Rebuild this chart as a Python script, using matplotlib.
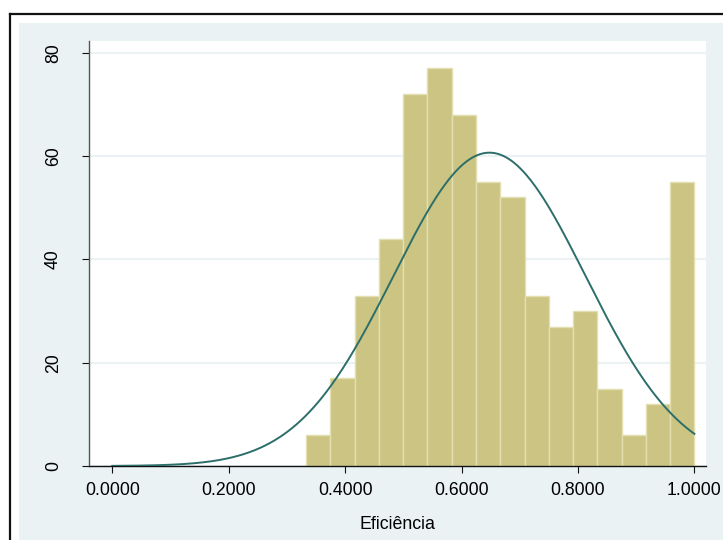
import numpy as np
import matplotlib.pyplot as plt
from matplotlib.patches import Rectangle
from matplotlib.lines import Line2D

# dados do histograma (16 classes)
bin_start = 0.333
bin_end = 1.0
counts = [6, 17, 33, 44, 72, 77, 68, 55, 52, 33, 27, 30, 15, 6, 12, 55]
# curva normal ajustada
mu = 0.648
sigma = 0.165
xticks = [0.0, 0.2, 0.4, 0.6, 0.8, 1.0]
yticks = [0, 20, 40, 60, 80]

plt.rcParams["font.family"] = ["Liberation Sans", "DejaVu Sans"]

fig = plt.figure(figsize=(7.23, 5.4), dpi=100)
fig.patch.set_facecolor("white")

# fundo azul claro estilo Stata + moldura
fig.patches.append(Rectangle((19 / 723, 0), 1, (540 - 23) / 540,
                             transform=fig.transFigure, facecolor="#EAF2F3",
                             edgecolor="none", zorder=-10))
fig.lines.append(Line2D([9.5 / 723, 9.5 / 723], [0, (540 - 14) / 540],
                        transform=fig.transFigure, color="#111111", lw=1.6, zorder=-5))
fig.lines.append(Line2D([9.5 / 723, 1], [(540 - 14) / 540] * 2,
                        transform=fig.transFigure, color="#111111", lw=1.6, zorder=-5))

ax = fig.add_axes([89 / 723, (540 - 466) / 540, (706 - 89) / 723, (466 - 41) / 540])
ax.set_zorder(1)
ax.set_facecolor("white")

n_bins = len(counts)
width = (bin_end - bin_start) / n_bins
lefts = bin_start + width * np.arange(n_bins)
ax.bar(lefts, counts, width=width, align="edge", color="#CBC482",
       edgecolor="#E4DFB0", linewidth=1.0, zorder=2)

xs = np.linspace(0, 1, 400)
scale = sum(counts) * width
ys = scale / (sigma * np.sqrt(2 * np.pi)) * np.exp(-(xs - mu) ** 2 / (2 * sigma ** 2))
ax.plot(xs, ys, color="#2C6E6A", lw=1.4, zorder=3)

ax.set_xlim(-0.040, 1.020)
ax.set_ylim(0, 82.3)
ax.set_xticks(xticks)
ax.set_xticklabels([f"{t:.4f}" for t in xticks])
ax.set_yticks(yticks)
ax.set_yticklabels([str(t) for t in yticks], rotation=90, va="center")

ax.yaxis.grid(True, color="#EAF2F3", linewidth=1.5, zorder=1)
ax.set_axisbelow(True)

for s in ["top", "right"]:
    ax.spines[s].set_visible(False)
ax.spines["left"].set_color("#555555")
ax.spines["left"].set_linewidth(1.0)
ax.spines["bottom"].set_color("#111111")
ax.spines["bottom"].set_linewidth(1.0)

ax.tick_params(axis="x", length=5, width=0.8, pad=6.5, labelsize=12.7, color="#111111")
ax.tick_params(axis="y", length=5, width=0.8, pad=14.5, labelsize=12.7, color="#111111")

ax.set_xlabel("Eficiência", fontsize=12.8, labelpad=12)

fig.savefig("out.png", dpi=100)
plt.close(fig)
